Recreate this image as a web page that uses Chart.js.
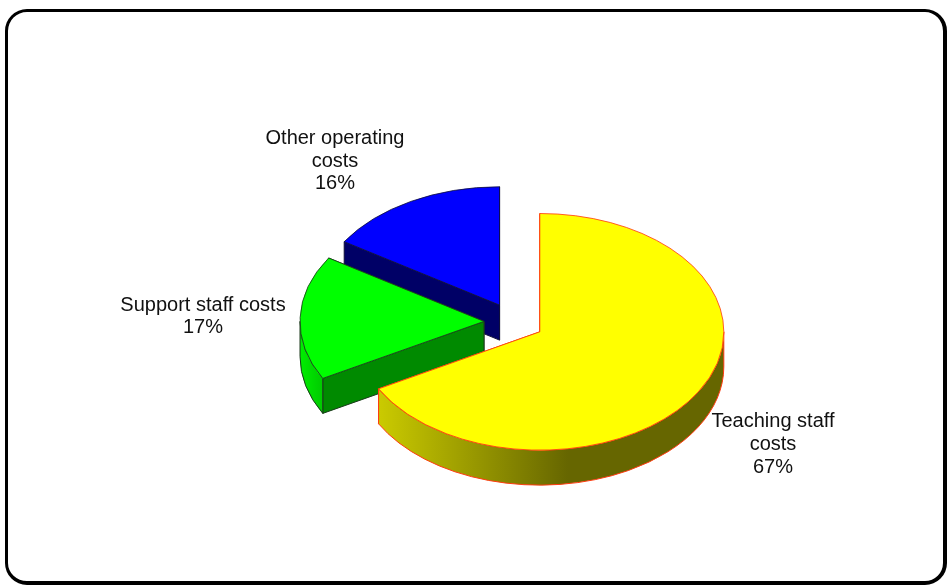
<!DOCTYPE html>
<html lang="en">
<head>
    <meta charset="UTF-8">
    <title>Cost breakdown</title>
    <script src="https://cdn.jsdelivr.net/npm/chart.js"></script>
    <style>
        html, body {
            margin: 0;
            background: #fff;
        }
        .frame {
            position: absolute;
            left: 5px;
            top: 9px;
            width: 942px;
            height: 576px;
            box-sizing: border-box;
            border: solid #000;
            border-width: 3px 4px 4px 3px;
            border-radius: 22px;
        }
        #costChart {
            position: absolute;
            left: 0;
            top: 0;
        }
    </style>
</head>
<body>
    <div class="frame"></div>
    <canvas id="costChart" width="947" height="585"></canvas>
    <script>
        const categories = ['Teaching staff costs', 'Support staff costs', 'Other operating costs'];
        const costShares = [67, 17, 16];

        const topColors = ['#ffff00', '#00ff00', '#0000ff'];
        const edgeColors = ['#ff3b10', '#1c3a1c', '#10103a'];
        const cutColors = ['#666600', '#008a00', '#000066'];

        // How the pie is tilted and pulled apart
        const squash = 0.643;
        const depth = 35;
        const explode = 30;

        // Arc centre once it has been pulled out along its middle angle
        function sliceCentre(arc) {
            const mid = (arc.startAngle + arc.endAngle) / 2;
            return {
                x: arc.x + Math.cos(mid) * explode,
                y: arc.y + Math.sin(mid) * explode * squash
            };
        }

        function rimFill(ctx, index, c, r) {
            if (index === 0) {
                const g = ctx.createLinearGradient(c.x - 164, 0, c.x + 28, 0);
                g.addColorStop(0, '#cccc00');
                g.addColorStop(1, '#666600');
                return g;
            }
            const g = ctx.createLinearGradient(c.x - r, 0, c.x - r + 24, 0);
            g.addColorStop(0, '#00ee00');
            g.addColorStop(1, '#00c800');
            return g;
        }

        function drawCut(ctx, c, r, angle) {
            const px = c.x + Math.cos(angle) * r;
            const py = c.y + Math.sin(angle) * r * squash;
            ctx.beginPath();
            ctx.moveTo(c.x, c.y);
            ctx.lineTo(px, py);
            ctx.lineTo(px, py + depth);
            ctx.lineTo(c.x, c.y + depth);
            ctx.closePath();
            ctx.fill();
            ctx.stroke();
        }

        function drawWalls(ctx, arc, index) {
            const c = sliceCentre(arc);
            const r = arc.outerRadius;
            ctx.strokeStyle = edgeColors[index];
            ctx.lineWidth = 1;
            ctx.fillStyle = cutColors[index];
            // the end cut faces away, so the start cut goes over it
            drawCut(ctx, c, r, arc.endAngle);
            drawCut(ctx, c, r, arc.startAngle);

            // only the front half of the rim can be seen
            const from = Math.max(arc.startAngle, 0);
            const to = Math.min(arc.endAngle, Math.PI);
            if (to > from) {
                ctx.beginPath();
                ctx.ellipse(c.x, c.y, r, r * squash, 0, from, to);
                ctx.ellipse(c.x, c.y + depth, r, r * squash, 0, to, from, true);
                ctx.closePath();
                ctx.fillStyle = rimFill(ctx, index, c, r);
                ctx.fill();
                ctx.stroke();
            }
        }

        const tiltedPie = {
            id: 'tiltedPie',
            beforeDatasetDraw(chart, args) {
                const ctx = chart.ctx;
                const arcs = args.meta.data;

                // back to front, so nearer walls cover the ones behind
                for (let i = arcs.length - 1; i >= 0; i--) {
                    drawWalls(ctx, arcs[i], i);
                }

                arcs.forEach(arc => {
                    const c = sliceCentre(arc);
                    ctx.save();
                    ctx.translate(c.x, c.y);
                    ctx.scale(1, squash);
                    ctx.translate(-arc.x, -arc.y);
                    arc.draw(ctx);
                    ctx.restore();
                });
                return false;
            }
        };

        const sliceLabels = {
            id: 'sliceLabels',
            afterDraw(chart, args, opts) {
                const ctx = chart.ctx;
                ctx.save();
                ctx.font = opts.font;
                ctx.fillStyle = '#111';
                ctx.textAlign = 'center';
                ctx.textBaseline = 'middle';
                opts.lines.forEach((lines, i) => {
                    const text = lines.concat(costShares[i] + '%');
                    const top = opts.centres[i][1] - (text.length - 1) * opts.lineHeight / 2;
                    text.forEach((line, n) => {
                        ctx.fillText(line, opts.centres[i][0], top + n * opts.lineHeight);
                    });
                });
                ctx.restore();
            }
        };

        new Chart(document.getElementById('costChart'), {
            type: 'pie',
            data: {
                labels: categories,
                datasets: [{
                    data: costShares,
                    backgroundColor: topColors,
                    borderColor: edgeColors,
                    borderWidth: 1
                }]
            },
            options: {
                responsive: false,
                animation: false,
                events: [],
                radius: 184,
                layout: { padding: { left: 81, top: 59 } },
                plugins: {
                    legend: { display: false },
                    tooltip: { enabled: false },
                    sliceLabels: {
                        font: '20px "Liberation Sans"',
                        lineHeight: 22.7,
                        lines: [['Teaching staff', 'costs'], ['Support staff costs'], ['Other operating', 'costs']],
                        centres: [[773, 444.5], [203, 316.5], [335, 161]]
                    }
                }
            },
            plugins: [tiltedPie, sliceLabels]
        });
    </script>
</body>
</html>
